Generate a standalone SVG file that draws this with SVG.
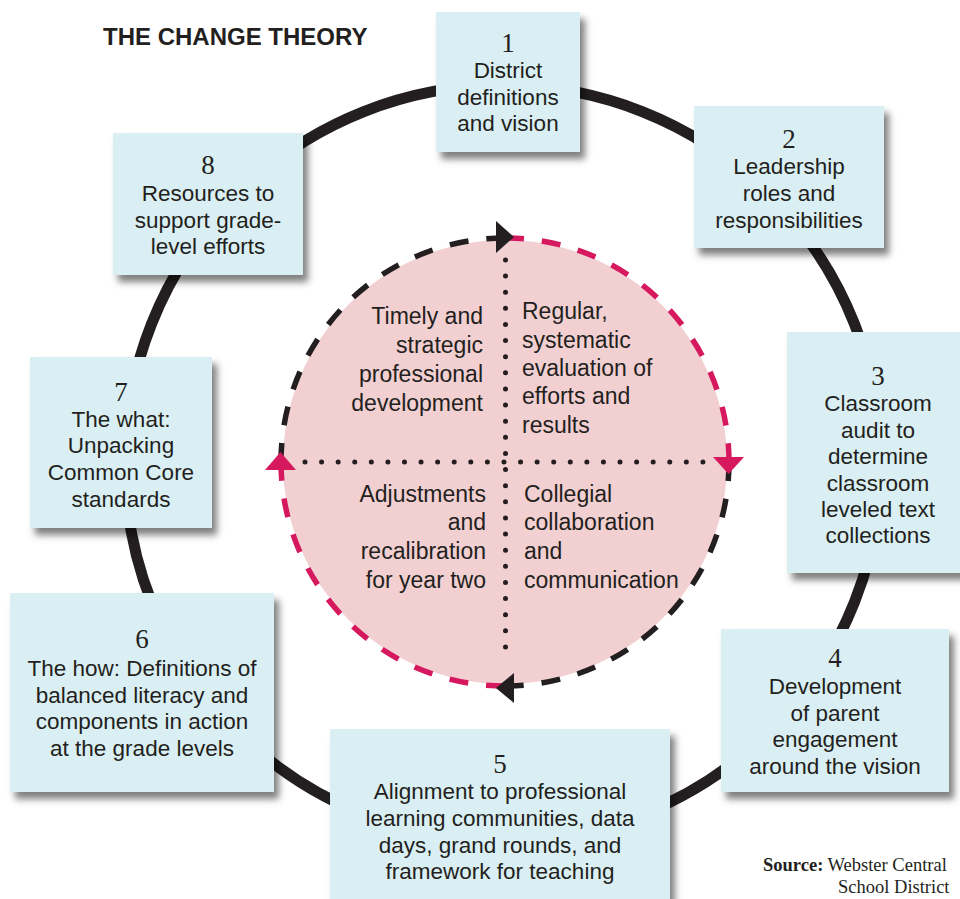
<svg xmlns="http://www.w3.org/2000/svg" width="960" height="899" viewBox="0 0 960 899">
<defs>
<filter id="sh" x="-10%" y="-10%" width="130%" height="130%">
<feDropShadow dx="5" dy="7" stdDeviation="3.5" flood-color="#000" flood-opacity="0.5"/>
</filter>
<style>
.box{fill:#daeff3;filter:url(#sh)}
.t{font-family:"Liberation Sans",Arial,sans-serif;font-size:22.5px;fill:#231f20;text-anchor:middle}
.n{font-family:"Liberation Serif","Times New Roman",serif;font-size:27px;fill:#231f20;text-anchor:middle}
.c{font-family:"Liberation Sans",Arial,sans-serif;font-size:23px;fill:#231f20}
.r{text-anchor:end}
.ring{fill:none;stroke:#231f20;stroke-width:11}
.dk{fill:none;stroke:#231f20;stroke-width:5.5;stroke-dasharray:19 18}
.mg{fill:none;stroke:#d6185e;stroke-width:5.5;stroke-dasharray:19 18}
.dot{fill:none;stroke:#231f20;stroke-width:5;stroke-linecap:round}
</style>
</defs>
<rect width="960" height="899" fill="#ffffff"/>
<text x="103" y="45" font-family="Liberation Sans,Arial,sans-serif" font-size="24" font-weight="bold" fill="#231f20">THE CHANGE THEORY</text>

<g id="connectors">
<circle class="ring" cx="503" cy="463" r="378"/>
<circle cx="505" cy="462" r="222" fill="#f2d0d1"/>
<path class="dk" d="M281,462 A224,224 0 0 1 505,238"/>
<path class="mg" d="M505,238 A224,224 0 0 1 729,462"/>
<path class="dk" d="M729,462 A224,224 0 0 1 505,686"/>
<path class="mg" d="M505,686 A224,224 0 0 1 281,462"/>
<path d="M496,221 L514,237 L496,253 Z" fill="#231f20"/>
<path d="M713,457 L744,457 L728.5,474 Z" fill="#d6185e"/>
<path d="M496,688 L514,673 L514,703 Z" fill="#231f20"/>
<path d="M265,470 L296,470 L280.5,452 Z" fill="#d6185e"/>
<line class="dot" x1="505.5" y1="260" x2="505.5" y2="663" stroke-dasharray="0 16.12"/>
<line class="dot" x1="305" y1="462" x2="703" y2="462" stroke-dasharray="0 16.58"/>
</g>

<g id="center">
<text class="c r" x="483" y="324">Timely and</text>
<text class="c r" x="483" y="353">strategic</text>
<text class="c r" x="483" y="382">professional</text>
<text class="c r" x="483" y="411">development</text>
<text class="c" x="522" y="319">Regular,</text>
<text class="c" x="522" y="348">systematic</text>
<text class="c" x="522" y="376">evaluation of</text>
<text class="c" x="522" y="404">efforts and</text>
<text class="c" x="522" y="433">results</text>
<text class="c r" x="486" y="502">Adjustments</text>
<text class="c r" x="486" y="530">and</text>
<text class="c r" x="486" y="559">recalibration</text>
<text class="c r" x="486" y="588">for year two</text>
<text class="c" x="524" y="502">Collegial</text>
<text class="c" x="524" y="530">collaboration</text>
<text class="c" x="524" y="559">and</text>
<text class="c" x="524" y="588">communication</text>
</g>

<g id="node1">
<rect class="box" x="436" y="12" width="144" height="140"/>
<text class="n" x="508" y="52">1</text>
<text class="t" x="508" y="78">District</text>
<text class="t" x="508" y="105">definitions</text>
<text class="t" x="508" y="131">and vision</text>
</g>
<g id="node2">
<rect class="box" x="694" y="106" width="190" height="142"/>
<text class="n" x="789" y="148">2</text>
<text class="t" x="789" y="174">Leadership</text>
<text class="t" x="789" y="201">roles and</text>
<text class="t" x="789" y="228">responsibilities</text>
</g>
<g id="node3">
<rect class="box" x="787" y="332" width="200" height="241"/>
<text class="n" x="878" y="385">3</text>
<text class="t" x="878" y="411">Classroom</text>
<text class="t" x="878" y="438">audit to</text>
<text class="t" x="878" y="464">determine</text>
<text class="t" x="878" y="491">classroom</text>
<text class="t" x="878" y="517">leveled text</text>
<text class="t" x="878" y="543">collections</text>
</g>
<g id="node4">
<rect class="box" x="721" y="629" width="228" height="163"/>
<text class="n" x="835" y="667">4</text>
<text class="t" x="835" y="694">Development</text>
<text class="t" x="835" y="721">of parent</text>
<text class="t" x="835" y="747">engagement</text>
<text class="t" x="835" y="774">around the vision</text>
</g>
<g id="node5">
<rect class="box" x="330" y="729" width="340" height="200"/>
<text class="n" x="500" y="773">5</text>
<text class="t" x="500" y="799">Alignment to professional</text>
<text class="t" x="500" y="826">learning communities, data</text>
<text class="t" x="500" y="853">days, grand rounds, and</text>
<text class="t" x="500" y="879">framework for teaching</text>
</g>
<g id="node6">
<rect class="box" x="10" y="593" width="264" height="199"/>
<text class="n" x="142" y="648">6</text>
<text class="t" x="142" y="676">The how: Definitions of</text>
<text class="t" x="142" y="703">balanced literacy and</text>
<text class="t" x="142" y="729">components in action</text>
<text class="t" x="142" y="756">at the grade levels</text>
</g>
<g id="node7">
<rect class="box" x="30" y="357" width="182" height="171"/>
<text class="n" x="121" y="401">7</text>
<text class="t" x="121" y="427">The what:</text>
<text class="t" x="121" y="453">Unpacking</text>
<text class="t" x="121" y="480">Common Core</text>
<text class="t" x="121" y="507">standards</text>
</g>
<g id="node8">
<rect class="box" x="113" y="133" width="190" height="142"/>
<text class="n" x="208" y="174">8</text>
<text class="t" x="208" y="201">Resources to</text>
<text class="t" x="208" y="228">support grade-</text>
<text class="t" x="208" y="254">level efforts</text>
</g>

<g id="source" font-family="Liberation Serif,Times New Roman,serif" font-size="18.5" fill="#231f20">
<text x="763" y="871"><tspan font-weight="bold">Source:</tspan> Webster Central</text>
<text x="838" y="893">School District</text>
</g>
</svg>
